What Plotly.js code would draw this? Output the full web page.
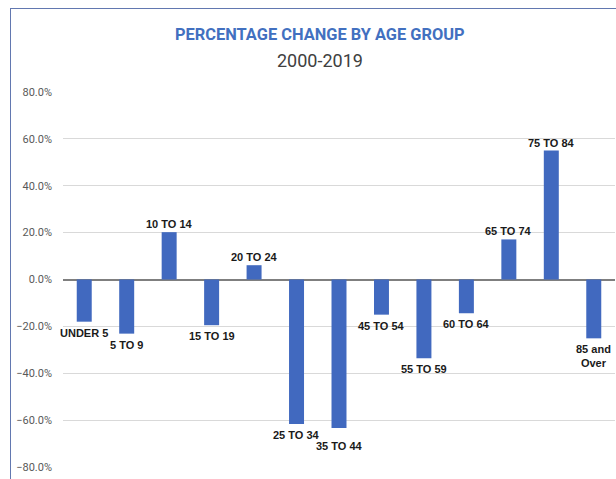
<!DOCTYPE html>
<html>
<head>
<meta charset="utf-8">
<script src="https://cdn.plot.ly/plotly-3.0.1.min.js"></script>
<style>
  html, body { margin: 0; padding: 0; background: #ffffff; overflow: hidden; }
  #chart { position: absolute; left: 0; top: 0; width: 616px; height: 479px; }
  #frame { position: absolute; left: 10px; top: 8px; width: 640px; height: 500px;
           border-left: 1.5px solid #6278b0; border-top: 1.5px solid #6278b0; pointer-events: none; }
</style>
</head>
<body>
<div id="chart"></div>
<div id="frame"></div>
<script>
const categories = ["UNDER 5", "5 TO 9", "10 TO 14", "15 TO 19", "20 TO 24", "25 TO 34", "35 TO 44",
                    "45 TO 54", "55 TO 59", "60 TO 64", "65 TO 74", "75 TO 84", "85 and Over"];
const barLabels = ["UNDER 5", "5 TO 9", "10 TO 14", "15 TO 19", "20 TO 24", "25 TO 34", "35 TO 44",
                   "45 TO 54", "55 TO 59", "60 TO 64", "65 TO 74", "75 TO 84", "85 and<br>Over"];
const changeValues = [-0.180, -0.231, 0.202, -0.195, 0.061, -0.617, -0.634,
                      -0.150, -0.336, -0.144, 0.171, 0.550, -0.251];
const yTickValues = [-0.8, -0.6, -0.4, -0.2, 0, 0.2, 0.4, 0.6, 0.8];
const titleText = "PERCENTAGE CHANGE BY AGE GROUP";
const subtitleText = "2000-2019";

// extra downward nudge (px) for labels that would collide with a neighbour
const labelNudge = { "35 TO 44": 7 };

const labelFont = { family: "Liberation Sans, Arial", size: 11, color: "#1a1a1a", weight: 700 };

const trace = {
  type: "bar",
  x: categories,
  y: changeValues,
  hoverinfo: "skip",
  marker: { color: "#4169bf" }
};

const labelAnnotations = categories.map((cat, i) => {
  const v = changeValues[i];
  const nudge = labelNudge[cat] || 0;
  return {
    x: cat,
    y: v,
    xref: "x", yref: "y",
    text: barLabels[i],
    showarrow: false,
    xanchor: "center",
    yanchor: v >= 0 ? "bottom" : "top",
    yshift: v >= 0 ? 0 : -3 - nudge,
    font: labelFont
  };
});

const layout = {
  width: 616,
  height: 479,
  margin: { l: 63, r: 1, t: 92, b: 12 },
  paper_bgcolor: "#ffffff",
  plot_bgcolor: "#ffffff",
  showlegend: false,
  bargap: 0.647,
  xaxis: {
    type: "category",
    range: [-0.5, 12.5],
    showticklabels: false,
    showgrid: false,
    zeroline: false,
    showline: false,
    fixedrange: true
  },
  yaxis: {
    range: [-0.8, 0.8],
    tickvals: yTickValues,
    tickformat: ".1%",
    showgrid: true,
    gridcolor: "#d9d9d9",
    gridwidth: 1,
    zeroline: true,
    zerolinecolor: "#7f7f7f",
    zerolinewidth: 2,
    showline: false,
    ticks: "",
    ticklabelstandoff: 10,
    tickfont: { family: "Roboto, Liberation Sans", size: 11, color: "#595959" },
    fixedrange: true
  },
  annotations: [
    {
      text: titleText,
      xref: "paper", yref: "paper",
      x: 0.4647, y: 1.153,
      xanchor: "center", yanchor: "middle",
      showarrow: false,
      font: { family: "Roboto, Liberation Sans", size: 16.4, color: "#4270c0", weight: 700 }
    },
    {
      text: subtitleText,
      xref: "paper", yref: "paper",
      x: 0.4647, y: 1.085,
      xanchor: "center", yanchor: "middle",
      showarrow: false,
      font: { family: "Roboto, Liberation Sans", size: 18, color: "#404040" }
    }
  ].concat(labelAnnotations)
};

Plotly.newPlot("chart", [trace], layout, { displayModeBar: false, staticPlot: true });
</script>
</body>
</html>
